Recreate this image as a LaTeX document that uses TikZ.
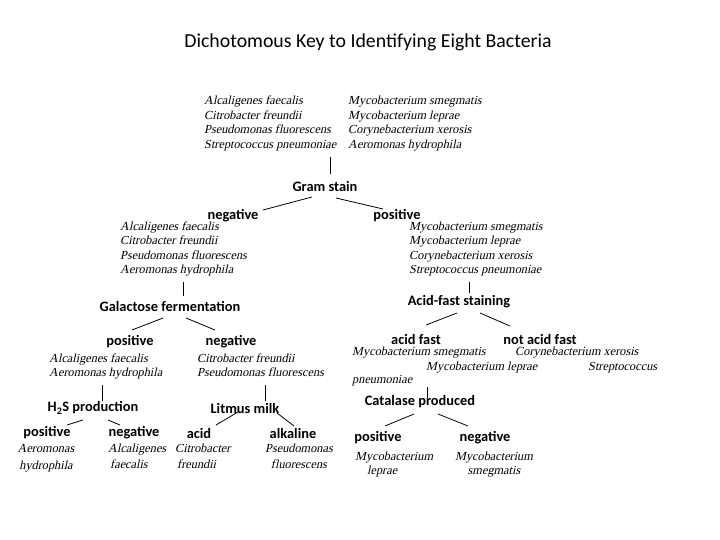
\documentclass[tikz,border=0pt]{standalone}
\usepackage{fontspec}
\setmainfont{Liberation Serif}
\newfontfamily\spfont{Liberation Serif}[FakeSlant=0.22]
\newfontfamily\calfont{Carlito}
\begin{document}
\begin{tikzpicture}[x=1pt,y=-1pt,
  sp/.style={font=\spfont\fontsize{12.3}{14.5}\selectfont, align=left, inner sep=0pt},
  spb/.style={font=\spfont\fontsize{12.3}{16.5}\selectfont, inner sep=0pt},
  hd/.style={font=\calfont\bfseries\fontsize{14.4}{16}\selectfont, inner sep=0pt},
  ln/.style={line width=0.8pt, black}]
\useasboundingbox (0,0) rectangle (720,540);
\node[font=\calfont\fontsize{19.8}{22}\selectfont, inner sep=0pt] (title) at (368,42) {Dichotomous Key to Identifying Eight Bacteria};
% top blocks
\node[sp, anchor=west] (topl) at (204,123.5) {Alcaligenes faecalis\\Citrobacter freundii\\Pseudomonas fluorescens\\Streptococcus pneumoniae};
\node[sp, anchor=west] (topr) at (348,123.5) {Mycobacterium smegmatis\\Mycobacterium leprae\\Corynebacterium xerosis\\Aeromonas hydrophila};
\coordinate (topjoin) at (330,157);
\node[hd] (gram) at (325,187) {Gram stain};
\node[hd] (neg1) at (233,216) {negative};
\node[hd] (pos1) at (397,216) {positive};
\node[sp, anchor=west] (negspp) at (120,249) {Alcaligenes faecalis\\Citrobacter freundii\\Pseudomonas fluorescens\\Aeromonas hydrophila};
\node[sp, anchor=west] (posspp) at (409,249) {Mycobacterium smegmatis\\Mycobacterium leprae\\Corynebacterium xerosis\\Streptococcus pneumoniae};
\node[hd] (galac) at (170,306) {Galactose fermentation};
\node[hd] (acidfs) at (459,302) {Acid-fast staining};
\node[hd] (gpos) at (130,342) {positive};
\node[hd] (gneg) at (231,342) {negative};
\node[sp, anchor=west] (gposspp) at (49,366.5) {Alcaligenes faecalis\\Aeromonas hydrophila};
\node[sp, anchor=west] (gnegspp) at (197,365) {Citrobacter freundii\\Pseudomonas fluorescens};
\node[hd] (afast) at (416,339) {acid fast};
\node[hd] (nafast) at (540,339) {not acid fast};
\node[sp, anchor=west] (afspp1) at (352,353) {Mycobacterium smegmatis};
\node[sp, anchor=west] (nafspp1) at (515,353) {Corynebacterium xerosis};
\node[sp, anchor=west] (afspp2) at (426,368) {Mycobacterium leprae};
\node[sp, anchor=west] (nafspp2) at (588,368) {Streptococcus};
\node[sp, anchor=west] (nafspp3) at (352,381) {pneumoniae};
\node[hd] (h2s) at (93,408) {H\textsubscript{2}S production};
\node[hd] (litmus) at (245,408) {Litmus milk};
\node[hd] (hpos) at (47,433) {positive};
\node[hd] (hneg) at (134,433) {negative};
\node[hd] (lacid) at (199,433) {acid};
\node[hd] (lalk) at (293,433) {alkaline};
\node[spb, align=center] (hposspp) at (46,458.5) {Aeromonas\\hydrophila};
\node[spb, align=left, anchor=west] (hnegspp) at (108,456.5) {Alcaligenes\\\hspace*{2pt}faecalis};
\node[spb, align=left, anchor=west] (lacidspp) at (175,456.5) {Citrobacter\\\hspace*{2pt}freundii};
\node[spb, align=center] (lalkspp) at (299,456.5) {Pseudomonas\\fluorescens};
\node[hd] (catal) at (420,402) {Catalase produced};
\node[hd] (cpos) at (378,438) {positive};
\node[hd] (cneg) at (485,438) {negative};
\node[sp, anchor=west] (cposspp) at (355,464.5) {Mycobacterium\\\hspace*{12pt}leprae};
\node[sp, align=center] (cnegspp) at (494,464.5) {Mycobacterium\\smegmatis};
% connectors
\draw[ln] (topjoin) -- ([shift={(5,-13)}]gram.center);
\draw[ln] ([shift={(-13,10)}]gram.center) -- ([shift={(30,-6)}]neg1.center);
\draw[ln] ([shift={(11,11)}]gram.center) -- ([shift={(-14,-7)}]pos1.center);
\draw[ln] ([shift={(63,33)}]negspp.west) -- ([shift={(13,-10)}]galac.center);
\draw[ln] ([shift={(60,33)}]posspp.west) -- ([shift={(10,-9)}]acidfs.center);
\draw[ln] ([shift={(-7,12)}]galac.center) -- ([shift={(2,-12)}]gpos.center);
\draw[ln] ([shift={(16,12)}]galac.center) -- ([shift={(-16,-12)}]gneg.center);
\draw[ln] ([shift={(-2,11)}]acidfs.center) -- ([shift={(10,-14)}]afast.center);
\draw[ln] ([shift={(21,11)}]acidfs.center) -- ([shift={(-30,-13)}]nafast.center);
\draw[ln] ([shift={(53,18.5)}]gposspp.west) -- ([shift={(9,-7)}]h2s.center);
\draw[ln] ([shift={(68,20)}]gnegspp.west) -- ([shift={(20,-7)}]litmus.center);
\draw[ln] ([shift={(1,19)}]afspp2.west) -- ([shift={(7,-4)}]catal.center);
\draw[ln] ([shift={(-10,12)}]h2s.center) -- ([shift={(20,-8)}]hpos.center);
\draw[ln] ([shift={(15,12)}]h2s.center) -- ([shift={(-14,-8)}]hneg.center);
\draw[ln] ([shift={(-7,4)}]litmus.center) -- ([shift={(17,-8)}]lacid.center);
\draw[ln] ([shift={(32,5)}]litmus.center) -- ([shift={(1,-7)}]lalk.center);
\draw[ln] ([shift={(-6,12)}]catal.center) -- ([shift={(7,-12)}]cpos.center);
\draw[ln] ([shift={(18,12)}]catal.center) -- ([shift={(-17,-12)}]cneg.center);
\end{tikzpicture}
\end{document}
